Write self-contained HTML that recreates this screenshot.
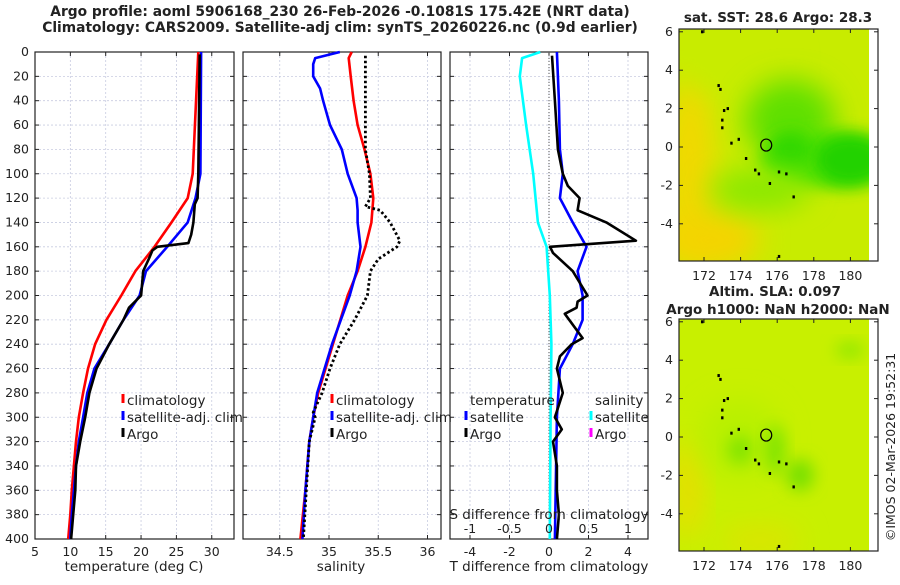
<!DOCTYPE html>
<html><head><meta charset="utf-8">
<style>
body{margin:0;background:#fff;width:900px;height:580px;overflow:hidden;font-family:"Liberation Sans","DejaVu Sans",sans-serif;}
svg text{font-family:"DejaVu Sans","Liberation Sans",sans-serif;}
</style></head>
<body>
<svg id="chart" width="900" height="580" viewBox="0 0 900 580" xmlns="http://www.w3.org/2000/svg">
<defs>
<filter id="blur8" x="-50%" y="-50%" width="200%" height="200%"><feGaussianBlur stdDeviation="8"/></filter>
<filter id="blur14" x="-50%" y="-50%" width="200%" height="200%"><feGaussianBlur stdDeviation="14"/></filter>
<clipPath id="clipTop"><rect x="679" y="29" width="190" height="232"/></clipPath>
<clipPath id="clipBot"><rect x="679" y="319" width="190" height="232"/></clipPath>
</defs>
<g id="layer"></g>
</svg>
<script>
// ---- data ----
const depthTicks = [0,20,40,60,80,100,120,140,160,180,200,220,240,260,280,300,320,340,360,380,400];
const tTicks = [5,10,15,20,25,30];
const sTicks = [34.5,35,35.5,36];
const dTTicks = [-4,-2,0,2,4];
const dSTicks = [-1,-0.5,0,0.5,1];
const dSTickLabels = ['-1','-0.5','0','0.5','1'];
const lonTicks = [172,174,176,178,180];
const latTicks = [6,4,2,0,-2,-4];

const climDepth = [0,100,120,140,160,180,200,220,240,260,280,300,320,340,360,380,400];
const climTemp  = [28.1,27.3,26.6,24.3,21.9,19.2,17.2,15.1,13.5,12.5,11.8,11.2,10.8,10.5,10.2,10.0,9.7];
const satDepth  = [0,100,120,140,160,180,200,220,240,260,280,300,320,340,360,380,400];
const satTemp   = [28.5,28.4,27.7,26.6,23.7,20.7,19.8,17.5,15.5,13.4,12.4,11.8,11.2,10.8,10.5,10.2,10.0];
const argoDepth = [2,100,120,125,140,150,157,160,163,170,180,200,210,220,240,260,280,300,320,340,360,380,400];
const argoTemp  = [28.3,28.1,28.0,27.6,27.4,27.1,26.7,22.3,21.6,21.1,20.3,20.0,18.3,17.5,15.5,13.7,12.7,12.1,11.4,10.8,10.7,10.4,10.1];

const climSDepth = [0,5,20,40,60,80,100,120,140,160,180,200,240,280,300,320,360,400];
const climSal    = [35.23,35.20,35.22,35.25,35.29,35.36,35.42,35.45,35.43,35.37,35.29,35.19,35.04,34.89,34.84,34.80,34.76,34.71];
const satSDepth  = [0,5,10,20,30,40,60,80,100,120,130,140,160,180,200,240,280,320,360,400];
const satSal     = [35.11,34.86,34.84,34.84,34.91,34.94,35.01,35.13,35.19,35.28,35.29,35.29,35.32,35.28,35.21,35.03,34.88,34.80,34.76,34.73];
const argoSDepth = [3,80,100,120,127,130,140,155,160,170,180,200,220,240,260,280,296,300,320,360,400];
const argoSal    = [35.37,35.37,35.41,35.42,35.37,35.52,35.62,35.72,35.69,35.50,35.42,35.39,35.26,35.11,35.01,34.93,34.84,34.86,34.80,34.77,34.74];

const dSDepth = [0,5,20,60,100,140,160,200,240,300,400];
const dSSat   = [-0.11,-0.34,-0.37,-0.29,-0.2,-0.14,-0.03,0.01,0.03,0.02,0.01];
const dTSatDepth = [0,40,80,100,120,140,160,180,200,220,240,260,300,350,400];
const dTSat      = [0.4,0.5,0.55,0.7,0.55,1.2,1.9,1.45,1.7,1.7,1.2,0.55,0.4,0.35,0.3];
const dTArgoDepth = [3,40,80,100,110,120,130,140,155,160,165,180,200,205,210,215,235,240,250,260,280,300,310,320,340,360,380,400];
const dTArgo      = [0.15,0.3,0.45,0.7,0.95,1.55,1.45,2.9,4.4,0.05,0.2,1.2,1.95,1.45,1.4,0.8,1.7,1.15,0.55,0.4,0.7,0.3,0.65,0.2,0.4,0.4,0.5,0.4];

const islandLon = [172.8,172.9,173.1,173.0,173.0,173.3,173.5,173.9,174.3,174.8,175.0,175.6,176.1,176.5,176.9,171.9,176.1];
const islandLat = [3.2,3.0,1.9,1.4,1.0,2.0,0.2,0.4,-0.6,-1.2,-1.4,-1.9,-1.3,-1.4,-2.6,6.0,-5.7];
const argoLon = 175.4, argoLat = 0.1;

// ---- helpers ----
const NS='http://www.w3.org/2000/svg';
const layer=document.getElementById('layer');
function mk(tag,attrs,parent){const e=document.createElementNS(NS,tag);for(const k in attrs)e.setAttribute(k,attrs[k]);(parent||layer).appendChild(e);return e;}
function txt(x,y,s,size,anchor,weight,parent){const t=mk('text',{x:x,y:y,'font-size':size,'text-anchor':anchor||'middle','font-weight':weight||'normal',fill:'#222'},parent);t.textContent=s;return t;}

const Y0=52,Y1=539;
const yD=d=>Y0+(d/400)*(Y1-Y0);
const P1={x0:35,x1:234}, P2={x0:243,x1:441}, P3={x0:450,x1:648};
const xT=t=>35+(t-5)*7.07;
const xS=s=>329+(s-35)*98.5;
const xDT=d=>549+d*19.75;
const xDS=d=>549+d*79;

function panel(P,name,xTicksArr,xf,labels){
  const g=mk('g',{});
  
  
  depthTicks.forEach(d=>{mk('line',{x1:P.x0,x2:P.x1,y1:yD(d),y2:yD(d),stroke:'#c8cce0','stroke-width':0.8,'stroke-dasharray':'2,2'},g);});
  xTicksArr.forEach(v=>{mk('line',{x1:xf(v),x2:xf(v),y1:Y0,y2:Y1,stroke:'#c8cce0','stroke-width':0.8,'stroke-dasharray':'2,2'},g);});
  depthTicks.forEach(d=>{mk('line',{x1:P.x0,x2:P.x0+4,y1:yD(d),y2:yD(d),stroke:'#222'},g);mk('line',{x1:P.x1-4,x2:P.x1,y1:yD(d),y2:yD(d),stroke:'#222'},g);});
  xTicksArr.forEach(v=>{mk('line',{x1:xf(v),x2:xf(v),y1:Y1,y2:Y1-4,stroke:'#222'},g);mk('line',{x1:xf(v),x2:xf(v),y1:Y0,y2:Y0+4,stroke:'#222'},g);});
  if(labels) xTicksArr.forEach((v,i)=>{const t=txt(xf(v),556,labels[i],12.5,'middle','normal',g);});
  return g;
}
function frame(P,g){mk('rect',{x:P.x0,y:Y0,width:P.x1-P.x0,height:Y1-Y0,fill:'none',stroke:'#222','stroke-width':1.2},g);}
function line(xs,ds,xf,color,name,dash,w){
  const pts=xs.map((v,i)=>xf(v).toFixed(1)+','+yD(ds[i]).toFixed(1)).join(' ');
  const p=mk('polyline',{points:pts,fill:'none',stroke:color,'stroke-width':w||2.6,'stroke-linejoin':'round'});
  if(dash)p.setAttribute('stroke-dasharray',dash);
  
  
  return p;
}

// titles
let t1=txt(340,16,'Argo profile: aoml 5906168_230 26-Feb-2026 -0.1081S 175.42E (NRT data)',13.8,'middle','bold');

let t2=txt(340,32,'Climatology: CARS2009. Satellite-adj clim: synTS_20260226.nc (0.9d earlier)',13.8,'middle','bold');


// y tick labels
depthTicks.forEach(d=>{const t=txt(29,yD(d)+4,String(d),12.5,'end');});

// panel 1
const g1=panel(P1,'temperature-panel',tTicks,xT,tTicks.map(String));
line(climTemp,climDepth,xT,'#ff0000','climatology-temp-line');
line(satTemp,satDepth,xT,'#0000ff','satellite-temp-line');
line(argoTemp,argoDepth,xT,'#000000','argo-temp-line');
frame(P1,g1);
let xl=txt(134,571,'temperature (deg C)',13.5);

// panel 2
const g2=panel(P2,'salinity-panel',sTicks,xS,['34.5','35','35.5','36']);
line(climSal,climSDepth,xS,'#ff0000','climatology-salinity-line');
line(satSal,satSDepth,xS,'#0000ff','satellite-salinity-line');
line(argoSal,argoSDepth,xS,'#000000','argo-salinity-line','2.5,2.5',2.8);
frame(P2,g2);
xl=txt(341,571,'salinity',13.5);

// panel 3
const g3=panel(P3,'difference-panel',dTTicks,xDT,dTTicks.map(String));
let zl=mk('line',{x1:549,x2:549,y1:Y0,y2:Y1,stroke:'#555','stroke-width':1,'stroke-dasharray':'1,2'});

line(dSSat,dSDepth,xDS,'#00ffff','salinity-satellite-diff-line');
line(dTSat,dTSatDepth,xDT,'#0000ff','temperature-satellite-diff-line');
line(dTArgo,dTArgoDepth,xDT,'#000000','temperature-argo-diff-line');
frame(P3,g3);
dSTicks.forEach((v,i)=>{const t=txt(xDS(v),533,dSTickLabels[i],12.5);});
let sl=txt(549,519,'S difference from climatology',13.5);
xl=txt(549,571,'T difference from climatology',13.5);

// legends
function legendEntry(x,y,color,label,name){
  const g=mk('g',{});
  
  
  mk('line',{x1:x,x2:x,y1:y-11,y2:y-2,stroke:color,'stroke-width':3},g);
  txt(x+4,y,label,13.5,'start','normal',g);
}
legendEntry(123,405,'#ff0000','climatology','legend-entry-climatology-t');
legendEntry(123,422,'#0000ff','satellite-adj. clim','legend-entry-satellite-t');
legendEntry(123,439,'#000000','Argo','legend-entry-argo-t');
legendEntry(332,405,'#ff0000','climatology','legend-entry-climatology-s');
legendEntry(332,422,'#0000ff','satellite-adj. clim','legend-entry-satellite-s');
legendEntry(332,439,'#000000','Argo','legend-entry-argo-s');
let lt=txt(470,405,'temperature',13.5,'start');
let ls=txt(595,405,'salinity',13.5,'start');
legendEntry(466,422,'#0000ff','satellite','legend-entry-t-satellite');
legendEntry(466,439,'#000000','Argo','legend-entry-t-argo');
legendEntry(591,422,'#00ffff','satellite','legend-entry-s-satellite');
legendEntry(591,439,'#ff00ff','Argo','legend-entry-s-argo');

// maps
const xLon=l=>704+(l-172)*18.3;
function map(oy,name,clip,blobs,base){
  const g=mk('g',{});
  
  
  const yLat=la=>147+oy-la*19.2;
  const gc=mk('g',{'clip-path':'url(#'+clip+')'},g);
  mk('rect',{x:679,y:29+oy,width:190,height:232,fill:base},gc);
  blobs.forEach(b=>mk('ellipse',{cx:b[0],cy:b[1]+oy,rx:b[2],ry:b[3],fill:b[4],filter:'url(#'+(b[5]||'blur14')+')'},gc));
  islandLon.forEach((l,i)=>{mk('rect',{x:xLon(l)-1.2,y:yLat(islandLat[i])-1.5,width:2.4,height:3,fill:'#000'},g);});
  const c=mk('ellipse',{cx:xLon(argoLon),cy:yLat(argoLat),rx:5.5,ry:6,fill:'none',stroke:'#000','stroke-width':1.2},g);
  
  
  mk('rect',{x:679,y:29+oy,width:199,height:232,fill:'none',stroke:'#222','stroke-width':1.2},g);
  lonTicks.forEach(l=>{mk('line',{x1:xLon(l),x2:xLon(l),y1:261+oy,y2:257+oy,stroke:'#222'},g);mk('line',{x1:xLon(l),x2:xLon(l),y1:29+oy,y2:33+oy,stroke:'#222'},g);txt(xLon(l),280+oy,String(l),12.5,'middle','normal',g);});
  latTicks.forEach(la=>{mk('line',{x1:679,x2:683,y1:yLat(la),y2:yLat(la),stroke:'#222'},g);mk('line',{x1:878,x2:874,y1:yLat(la),y2:yLat(la),stroke:'#222'},g);txt(673,yLat(la)+4,String(la),12.5,'end','normal',g);});
}
map(0,'sst-map','clipTop',[
  [690,170,25,90,'#f2d800'],[710,240,50,30,'#f4d400'],[740,60,50,30,'#c8ec00'],
  [790,120,45,40,'#5ee000','blur14'],[830,160,70,28,'#4ee000','blur8'],[850,160,35,25,'#22d200','blur8'],
  [790,150,20,18,'#30d800','blur8'],[760,190,50,20,'#88e800']
],'#c8ec00');
map(290,'sla-map','clipBot',[
  [688,200,14,50,'#eadc00'],[760,250,40,15,'#dce400'],[740,150,40,40,'#b8f000'],
  [775,160,10,25,'#80e400','blur8'],[740,160,12,14,'#80e400','blur8'],[800,185,14,16,'#78e000','blur8'],[850,60,15,8,'#90e800','blur8']
],'#c8f000');
let m1=txt(778,22,'sat. SST: 28.6 Argo: 28.3',13.5,'middle','bold');
let m2=txt(775,296,'Altim. SLA: 0.097',13.5,'middle','bold');
let m3=txt(778,314,'Argo h1000: NaN h2000: NaN',13.5,'middle','bold');
let cp=txt(0,0,'©IMOS 02-Mar-2026 19:52:31',12.5,'middle');
cp.setAttribute('transform','translate(895,447) rotate(-90)');

</script>
</body></html>
